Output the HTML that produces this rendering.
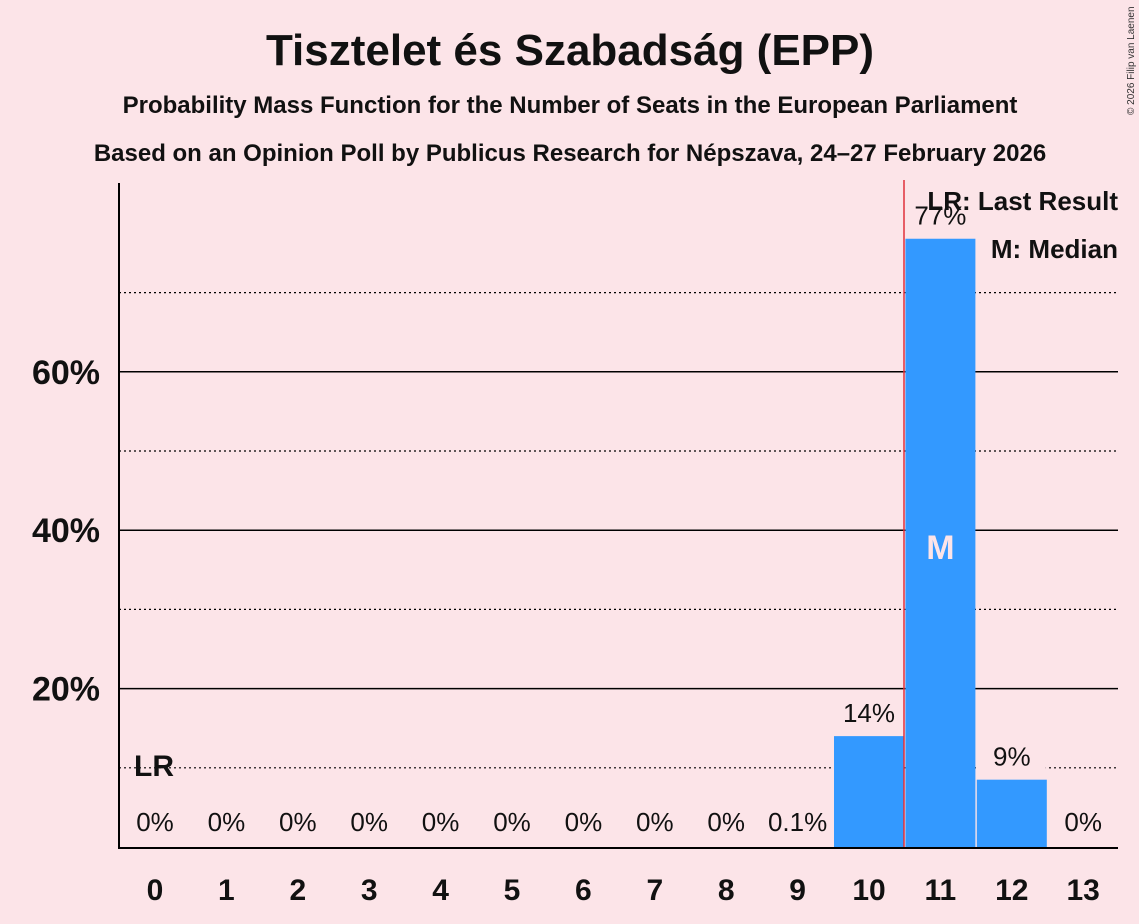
<!DOCTYPE html>
<html><head><meta charset="utf-8"><style>
body{margin:0;background:#fce4e8;}
svg{display:block;font-family:"Liberation Sans",sans-serif;}
</style></head><body>
<svg width="1139" height="924" viewBox="0 0 1139 924">
<rect width="1139" height="924" fill="#fce4e8"/>
<text x="570" y="65" text-anchor="middle" font-size="44" font-weight="bold" fill="#111">Tisztelet és Szabadság (EPP)</text>
<text x="570" y="113" text-anchor="middle" font-size="24" font-weight="bold" fill="#111">Probability Mass Function for the Number of Seats in the European Parliament</text>
<text x="570" y="161" text-anchor="middle" font-size="24" font-weight="bold" fill="#111">Based on an Opinion Poll by Publicus Research for Népszava, 24–27 February 2026</text>
<text transform="translate(1134,115) rotate(-90)" font-size="10" fill="#333">© 2026 Filip van Laenen</text>
<g id="grid"></g>
<g id="bars"></g>
<g id="labels"></g>
<line x1="119" y1="183" x2="119" y2="848" stroke="#000" stroke-width="2"/>
<line x1="118" y1="848" x2="1118" y2="848" stroke="#000" stroke-width="2"/>
<line x1="904" y1="180" x2="904" y2="847" stroke="#e0303a" stroke-width="1.5"/>
<text x="134" y="776" font-size="30" font-weight="bold" fill="#111">LR</text>
<text x="1118" y="210" text-anchor="end" font-size="26" font-weight="bold" fill="#111">LR: Last Result</text>
<text x="1118" y="258" text-anchor="end" font-size="26" font-weight="bold" fill="#111">M: Median</text>
</svg>
<script>
const categories=[0,1,2,3,4,5,6,7,8,9,10,11,12,13];
const values=[0,0,0,0,0,0,0,0,0,0.1,14,76.8,8.5,0];
const valueLabels=["0%","0%","0%","0%","0%","0%","0%","0%","0%","0.1%","14%","77%","9%","0%"];
const yTicks=[20,40,60];
const yMinor=[10,30,50,70];
const medianIndex=11;
const NS="http://www.w3.org/2000/svg";
const y=v=>847-v*7.92;
const x=i=>155+i*71.4;
function mk(t,a,p){const e=document.createElementNS(NS,t);for(const k in a)e.setAttribute(k,a[k]);p.appendChild(e);return e;}
const grid=document.getElementById('grid'),bars=document.getElementById('bars'),labels=document.getElementById('labels');
yMinor.forEach(v=>{const l=mk('line',{x1:119,x2:1118,y1:y(v),y2:y(v),stroke:'#000','stroke-width':1.2,'stroke-dasharray':'2,3'},grid);

});
yTicks.forEach(v=>{const l=mk('line',{x1:119,x2:1118,y1:y(v),y2:y(v),stroke:'#000','stroke-width':1.5},grid);


const t=mk('text',{x:100,y:y(v)+12,'text-anchor':'end','font-size':34,'font-weight':'bold',fill:'#111'},labels);t.textContent=v+'%';

});
categories.forEach((c,i)=>{
 if(values[i]>0.5){const r=mk('rect',{x:x(i)-35,y:y(values[i]),width:70,height:847-y(values[i]),fill:'#3399ff'},bars);
 
 }
 const ly=values[i]>0.5?y(values[i])-14:831;
 if(i!==medianIndex) mk('rect',{x:x(i)-34,y:ly-22,width:68,height:28,fill:'#fce4e8'},labels);
 const t=mk('text',{x:x(i),y:ly,'text-anchor':'middle','font-size':26,fill:'#111'},labels);t.textContent=valueLabels[i];
 
 
 const xt=mk('text',{x:x(i),y:900,'text-anchor':'middle','font-size':30,'font-weight':'bold',fill:'#111'},labels);xt.textContent=c;
 
 
});
const m=mk('text',{x:x(medianIndex),y:559,'text-anchor':'middle','font-size':34,'font-weight':'bold',fill:'#fce4e8'},labels);m.textContent='M';


</script>
</body></html>
